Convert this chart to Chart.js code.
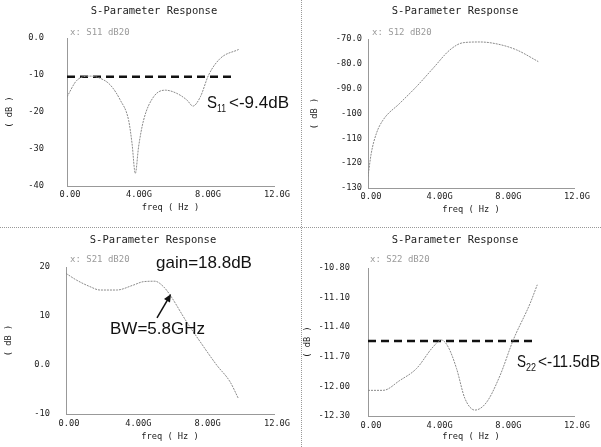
<!DOCTYPE html>
<html>
<head>
<meta charset="utf-8">
<title>S-Parameter Response</title>
<script src="https://cdn.jsdelivr.net/npm/chart.js@4.4.1/dist/chart.umd.min.js"></script>
<style>
  html, body { margin: 0; padding: 0; background: #fff; }
  body { width: 601px; height: 447px; position: relative; overflow: hidden; }
  .panel { position: absolute; }
  .vsep { position: absolute; left: 301px; top: 0; height: 447px; border-left: 1px dotted #999; }
  .hsep { position: absolute; left: 0; top: 227px; width: 601px; border-top: 1px dotted #999; }
</style>
</head>
<body>
  <div class="panel" style="left:0;top:0;width:300px;height:226px"><canvas id="s11Chart"></canvas></div>
  <div class="panel" style="left:300px;top:0;width:301px;height:226px"><canvas id="s12Chart"></canvas></div>
  <div class="panel" style="left:0;top:228px;width:300px;height:219px"><canvas id="s21Chart"></canvas></div>
  <div class="panel" style="left:300px;top:228px;width:301px;height:219px"><canvas id="s22Chart"></canvas></div>
  <div class="vsep"></div>
  <div class="hsep"></div>

<script>
// frequency axis (GHz)
const freqTicks = [0, 4, 8, 12];
const freqTickLabels = ['0.00', '4.00G', '8.00G', '12.0G'];

// S11
const s11Freq = [0, 0.58, 1.35, 1.93, 2.51, 3.09, 3.57, 3.77, 3.96, 4.15, 4.44, 5.02, 5.7, 6.38, 6.96, 7.3, 7.73, 8.21, 8.89, 9.95];
const s11Db = [-15.9, -11.4, -10.3, -10.9, -12.7, -16.8, -22.2, -28.5, -36.6, -29.4, -22.2, -15.9, -14.1, -15.0, -16.8, -18.4, -15.9, -10.0, -5.5, -3.1];
const s11LimitFreq = [0, 9.6];
const s11LimitDb = [-10.5, -10.5];
const s11YTicks = [0, -10, -20, -30, -40];
const s11YLabels = ['0.0', '-10', '-20', '-30', '-40'];

// S12
const s12Freq = [0, 0.19, 0.49, 0.88, 1.85, 2.82, 3.79, 4.77, 5.54, 6.52, 7.59, 8.66, 9.92];
const s12Db = [-125.4, -116.0, -108.0, -102.6, -95.9, -89.2, -81.8, -74.4, -71.5, -71.2, -72.1, -74.4, -79.1];
const s12YTicks = [-70, -80, -90, -100, -110, -120, -130];
const s12YLabels = ['-70.0', '-80.0', '-90.0', '-100', '-110', '-120', '-130'];

// S21
const s21Freq = [0, 0.62, 1.38, 1.96, 2.92, 3.88, 4.46, 5.13, 5.62, 6.0, 6.96, 7.73, 8.69, 9.46, 9.94];
const s21Db = [18.7, 17.3, 16.0, 15.3, 15.3, 16.3, 17.0, 17.1, 16.0, 14.3, 8.8, 4.8, 0.0, -3.4, -6.8];
const s21YTicks = [20, 10, 0, -10];
const s21YLabels = ['20', '10', '0.0', '-10'];
const bwArrowFrom = [5.25, 9.6];
const bwArrowTo = [6.06, 14.5];

// S22
const s22Freq = [0, 0.88, 1.85, 2.82, 3.79, 4.28, 4.67, 5.16, 5.64, 6.23, 6.91, 7.69, 8.46, 9.44, 9.86];
const s22Db = [-12.04, -12.04, -11.94, -11.82, -11.60, -11.53, -11.60, -11.82, -12.12, -12.24, -12.16, -11.89, -11.53, -11.16, -10.97];
const s22LimitFreq = [0, 9.6];
const s22LimitDb = [-11.54, -11.54];
const s22YTicks = [-10.8, -11.1, -11.4, -11.7, -12.0, -12.3];
const s22YLabels = ['-10.80', '-11.10', '-11.40', '-11.70', '-12.00', '-12.30'];

const axisFont = { family: 'DejaVu Sans Mono', size: 8.7 };
const toPoints = (xs, ys) => xs.map((x, i) => ({ x: x, y: ys[i] }));

// titles, trace labels and hand-written notes
const panelText = {
  id: 'panelText',
  afterDatasetsDraw(chart, args, o) {
    const ctx = chart.ctx;
    ctx.save();
    ctx.fillStyle = '#222';
    ctx.font = '10.5px "DejaVu Sans Mono"';
    ctx.textAlign = 'center';
    ctx.textBaseline = 'middle';
    ctx.fillText('S-Parameter Response', o.titleX, o.titleY);

    ctx.fillStyle = '#9a9a9a';
    ctx.font = '9px "DejaVu Sans Mono"';
    ctx.textAlign = 'left';
    ctx.fillText(o.trace, o.traceX, o.traceY);

    ctx.fillStyle = '#111';
    ctx.textBaseline = 'alphabetic';
    (o.notes || []).forEach(n => {
      // each note is a row of pieces; a sub piece is a smaller, lowered subscript
      n.parts.forEach(p => {
        ctx.font = p.sub ? '10px "Liberation Sans"' : '17px "Liberation Sans"';
        ctx.fillText(p.t, n.x + (p.dx || 0), n.y + (p.sub ? 4 : 0), p.w);
      });
    });

    if (o.arrow) {
      const sx = chart.scales.x, sy = chart.scales.y;
      const x0 = sx.getPixelForValue(o.arrow.from[0]), y0 = sy.getPixelForValue(o.arrow.from[1]);
      const x1 = sx.getPixelForValue(o.arrow.to[0]), y1 = sy.getPixelForValue(o.arrow.to[1]);
      const a = Math.atan2(y1 - y0, x1 - x0);
      ctx.strokeStyle = '#111';
      ctx.lineWidth = 1.5;
      ctx.beginPath();
      ctx.moveTo(x0, y0);
      ctx.lineTo(x1 - 6 * Math.cos(a), y1 - 6 * Math.sin(a));
      ctx.stroke();
      ctx.beginPath();
      ctx.moveTo(x1, y1);
      ctx.lineTo(x1 - 8 * Math.cos(a) + 3.5 * Math.sin(a), y1 - 8 * Math.sin(a) - 3.5 * Math.cos(a));
      ctx.lineTo(x1 - 8 * Math.cos(a) - 3.5 * Math.sin(a), y1 - 8 * Math.sin(a) + 3.5 * Math.cos(a));
      ctx.closePath();
      ctx.fill();
    }
    ctx.restore();
  }
};
Chart.register(panelText);

function panelChart(id, cfg) {
  const datasets = [{
    data: cfg.points,
    borderColor: '#8a8a8a',
    borderWidth: 1,
    borderDash: [2, 1],
    pointRadius: 0,
    cubicInterpolationMode: 'monotone',
    fill: false
  }];
  if (cfg.limit) {
    datasets.push({
      data: cfg.limit,
      borderColor: '#111',
      borderWidth: 2.5,
      borderDash: [8, 5],
      pointRadius: 0,
      fill: false
    });
  }
  return new Chart(document.getElementById(id), {
    type: 'line',
    data: { datasets },
    options: {
      responsive: true,
      maintainAspectRatio: false,
      animation: false,
      layout: { padding: { top: cfg.area.top, right: cfg.area.right, left: 0, bottom: 0 } },
      plugins: { legend: { display: false }, tooltip: { enabled: false }, panelText: cfg.text },
      scales: {
        x: {
          type: 'linear', min: 0, max: 12,
          afterBuildTicks: s => { s.ticks = freqTicks.map(v => ({ value: v })); },
          afterFit: s => { s.height = cfg.area.xh; },
          grid: { display: false, drawTicks: false },
          border: { display: true, color: '#999', dash: [1, 1] },
          ticks: { font: axisFont, color: '#222', padding: cfg.area.xpad, labelOffset: 3, autoSkip: false, maxRotation: 0,
                   callback: (v, i) => freqTickLabels[i] },
          title: { display: true, text: 'freq ( Hz )', font: axisFont, color: '#222', padding: { top: 0, bottom: cfg.area.xtitle } }
        },
        y: {
          type: 'linear', min: cfg.yMin, max: cfg.yMax,
          afterBuildTicks: s => { s.ticks = cfg.yTicks.map(v => ({ value: v })); },
          afterFit: s => { s.width = cfg.area.left; },
          grid: { display: false, drawTicks: false },
          border: { display: true, color: '#999', dash: [1, 1] },
          ticks: { font: axisFont, color: '#222', padding: cfg.area.ypad,
                   callback: v => cfg.yLabels[cfg.yTicks.indexOf(v)] },
          title: { display: true, text: '( dB )', font: axisFont, color: '#222', padding: { top: cfg.area.ytitle, bottom: 0 } }
        }
      }
    }
  });
}

panelChart('s11Chart', {
  points: toPoints(s11Freq, s11Db),
  limit: toPoints(s11LimitFreq, s11LimitDb),
  yMin: -40, yMax: 0, yTicks: s11YTicks, yLabels: s11YLabels,
  area: { left: 67, top: 38, right: 26, xh: 40, xpad: 4, xtitle: 13, ypad: 23, ytitle: 5 },
  text: { titleX: 154, titleY: 11, trace: 'x: S11 dB20', traceX: 70, traceY: 33,
          notes: [{ x: 207, y: 108, parts: [
            { t: 'S', w: 10 }, { t: '11', dx: 10, w: 9, sub: true }, { t: '<-9.4dB', dx: 22, w: 61 }] }] }
});

panelChart('s12Chart', {
  points: toPoints(s12Freq, s12Db),
  yMin: -130, yMax: -70, yTicks: s12YTicks, yLabels: s12YLabels,
  area: { left: 68, top: 39, right: 27, xh: 38, xpad: 4, xtitle: 11, ypad: 6, ytitle: 10 },
  text: { titleX: 155, titleY: 11, trace: 'x: S12 dB20', traceX: 72, traceY: 33 }
});

panelChart('s21Chart', {
  points: toPoints(s21Freq, s21Db),
  yMin: -10, yMax: 20, yTicks: s21YTicks, yLabels: s21YLabels,
  area: { left: 66, top: 39, right: 26, xh: 33, xpad: 5, xtitle: 5, ypad: 16, ytitle: 4 },
  text: { titleX: 153, titleY: 12, trace: 'x: S21 dB20', traceX: 70, traceY: 32,
          notes: [{ x: 156, y: 40, parts: [{ t: 'gain=18.8dB' }] }, { x: 110, y: 106, parts: [{ t: 'BW=5.8GHz' }] }],
          arrow: { from: bwArrowFrom, to: bwArrowTo } }
});

panelChart('s22Chart', {
  points: toPoints(s22Freq, s22Db),
  limit: toPoints(s22LimitFreq, s22LimitDb),
  yMin: -12.3, yMax: -10.8, yTicks: s22YTicks, yLabels: s22YLabels,
  area: { left: 68, top: 40, right: 27, xh: 31, xpad: 5, xtitle: 5, ypad: 18, ytitle: 3 },
  text: { titleX: 155, titleY: 12, trace: 'x: S22 dB20', traceX: 70, traceY: 32,
          notes: [{ x: 217, y: 139, parts: [
            { t: 'S', w: 9 }, { t: '22', dx: 9, w: 10, sub: true }, { t: '<-11.5dB', dx: 21, w: 62 }] }] }
});
</script>
</body>
</html>
